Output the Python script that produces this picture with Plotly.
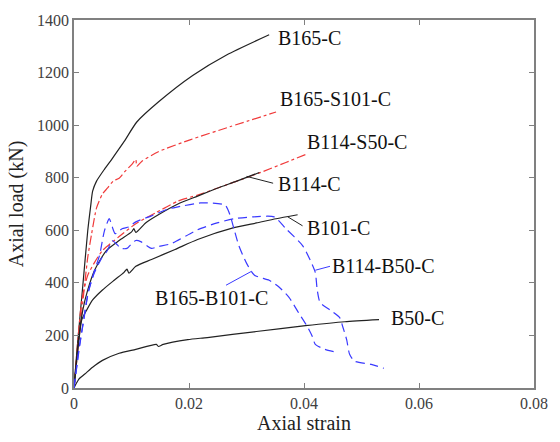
import plotly.graph_objects as go

# ---- data (strain, load kN) ----
b165_c_x = [0, 0.00068, 0.00154, 0.00239, 0.0029, 0.00324, 0.00392, 0.00529, 0.00665, 0.0087, 0.01092, 0.01467, 0.02064, 0.02661, 0.03394]
b165_c_y = [0, 184, 391, 598, 692, 749, 787, 832, 873, 937, 1012, 1088, 1189, 1268, 1344]

b165_s101_c_x = [0, 0.00085, 0.00188, 0.00239, 0.00307, 0.00392, 0.00495, 0.0058, 0.00682, 0.00785, 0.00887, 0.01006, 0.01075, 0.01092, 0.01177, 0.01467, 0.0203, 0.02712, 0.03514]
b165_s101_c_y = [0, 184, 399, 497, 587, 685, 738, 760, 787, 798, 824, 851, 869, 843, 862, 899, 945, 994, 1050]

b114_s50_c_x = [0, 0.00068, 0.00136, 0.00239, 0.00358, 0.00495, 0.00785, 0.01075, 0.01416, 0.01808, 0.0215, 0.02439, 0.02831, 0.03292, 0.03684, 0.04026]
b114_s50_c_y = [0, 184, 335, 429, 478, 523, 576, 625, 666, 711, 734, 756, 787, 824, 858, 888]

b114_c_x = [0, 0.00068, 0.00154, 0.00239, 0.00358, 0.00563, 0.00785, 0.01006, 0.01041, 0.01075, 0.01245, 0.01467, 0.01808, 0.0215, 0.0249, 0.02831, 0.03224]
b114_c_y = [0, 166, 297, 373, 448, 523, 561, 595, 606, 592, 628, 659, 700, 730, 760, 787, 820]

b101_c_x = [0, 0.00068, 0.00136, 0.00222, 0.00324, 0.00495, 0.00699, 0.0087, 0.00921, 0.00955, 0.01075, 0.01348, 0.01757, 0.0215, 0.0278, 0.03173, 0.03514, 0.03889]
b101_c_y = [0, 147, 260, 297, 335, 373, 410, 440, 452, 437, 463, 489, 527, 565, 610, 628, 644, 659]

b50_c_x = [0, 0.00034, 0.00085, 0.00188, 0.00324, 0.00495, 0.00785, 0.01075, 0.01433, 0.01467, 0.01552, 0.01979, 0.02319, 0.03172, 0.04026, 0.04708, 0.05305]
b50_c_y = [0, 15, 34, 53, 79, 105, 132, 147, 166, 158, 166, 184, 192, 215, 237, 252, 260]

b165_b101_c_x = [0, 0.00102, 0.00239, 0.00358, 0.00444, 0.00529, 0.00614, 0.00665, 0.00716, 0.00836, 0.00955, 0.01075, 0.01348, 0.01638, 0.01808, 0.02201, 0.02627, 0.02712, 0.02781, 0.02866, 0.03002, 0.03139, 0.03395, 0.03565, 0.03736, 0.03906, 0.0406, 0.04145, 0.04196, 0.04367, 0.04589]
b165_b101_c_y = [0, 166, 354, 448, 504, 598, 644, 613, 587, 606, 613, 632, 655, 681, 689, 704, 696, 659, 606, 542, 474, 429, 410, 384, 346, 286, 233, 196, 166, 147, 135]

b114_b50_c_x = [0, 0.00085, 0.00171, 0.00256, 0.00358, 0.00478, 0.0058, 0.00665, 0.00733, 0.00819, 0.00921, 0.00989, 0.01075, 0.0116, 0.01262, 0.01348, 0.01467, 0.01689, 0.02149, 0.0249, 0.0278, 0.03122, 0.0348, 0.03685, 0.03975, 0.04111, 0.04196, 0.0423, 0.04282, 0.04452, 0.04623, 0.04674, 0.04742, 0.04793, 0.04879, 0.05169, 0.0539]
b114_b50_c_y = [0, 147, 260, 373, 440, 493, 523, 561, 549, 531, 531, 546, 561, 557, 542, 531, 538, 549, 602, 628, 644, 651, 651, 606, 542, 485, 440, 373, 324, 297, 267, 233, 184, 128, 102, 90, 75]

# ---- labels ----
label_text = ["B165-C", "B165-S101-C", "B114-S50-C", "B114-C", "B101-C", "B114-B50-C", "B50-C", "B165-B101-C"]
label_x = [0.03514, 0.03548, 0.04009, 0.03514, 0.04026, 0.04452, 0.05476, 0.01382]
label_y = [1332, 1099, 937, 775, 610, 463, 267, 342]

pointer_x0 = [0.03002, 0.03719, 0.04196, 0.02644]
pointer_y0 = [805, 651, 448, 391]
pointer_x1 = [0.03463, 0.03975, 0.04452, 0.03088]
pointer_y1 = [779, 617, 463, 444]
pointer_color = ["#222222", "#222222", "#3a3aff", "#3a3aff"]

x_ticks = [0, 0.02, 0.04, 0.06, 0.08]
x_tick_text = ["0", "0.02", "0.04", "0.06", "0.08"]
y_ticks = [0, 200, 400, 600, 800, 1000, 1200, 1400]

BLACK = "#222222"
RED = "#f03a3a"
BLUE = "#3a3aff"
SERIF = "Liberation Serif"

fig = go.Figure()
series = [
    (b165_c_x, b165_c_y, BLACK, "solid"),
    (b165_s101_c_x, b165_s101_c_y, RED, "dashdot"),
    (b114_s50_c_x, b114_s50_c_y, RED, "dashdot"),
    (b114_c_x, b114_c_y, BLACK, "solid"),
    (b101_c_x, b101_c_y, BLACK, "solid"),
    (b50_c_x, b50_c_y, BLACK, "solid"),
    (b165_b101_c_x, b165_b101_c_y, BLUE, "9px,5px"),
    (b114_b50_c_x, b114_b50_c_y, BLUE, "9px,5px"),
]
for xs, ys, c, d in series:
    fig.add_trace(go.Scatter(x=xs, y=ys, mode="lines",
                             line=dict(color=c, width=1.2, dash=d, shape="spline", smoothing=0.6),
                             showlegend=False, hoverinfo="skip"))

for t, x, y in zip(label_text, label_x, label_y):
    fig.add_annotation(x=x, y=y, text=t, showarrow=False, xanchor="left",
                       yanchor="middle", xref="x", yref="y",
                       font=dict(family=SERIF, size=20, color="#111111"))

for x0, y0, x1, y1, c in zip(pointer_x0, pointer_y0, pointer_x1, pointer_y1, pointer_color):
    fig.add_shape(type="line", x0=x0, y0=y0, x1=x1, y1=y1, xref="x", yref="y",
                  line=dict(color=c, width=1))

axis_common = dict(showgrid=False, zeroline=False, showline=True,
                   linecolor="#808080", linewidth=1.5, mirror="allticks",
                   ticks="inside", ticklen=5, tickcolor="#808080", tickwidth=1,
                   tickfont=dict(family=SERIF, size=16, color="#404040"))

fig.update_xaxes(range=[0, 0.08], tickvals=x_ticks, ticktext=x_tick_text,
                 title=dict(text="Axial strain", font=dict(family=SERIF, size=20, color="#222222"), standoff=4),
                 **axis_common)
fig.update_yaxes(range=[0, 1400], tickvals=y_ticks,
                 title=dict(text="Axial load (kN)", font=dict(family=SERIF, size=20, color="#222222"), standoff=8),
                 **axis_common)

fig.update_layout(width=560, height=442,
                  margin=dict(l=74, r=16, t=17, b=53),
                  paper_bgcolor="white", plot_bgcolor="white")

fig.write_html("out.html")
